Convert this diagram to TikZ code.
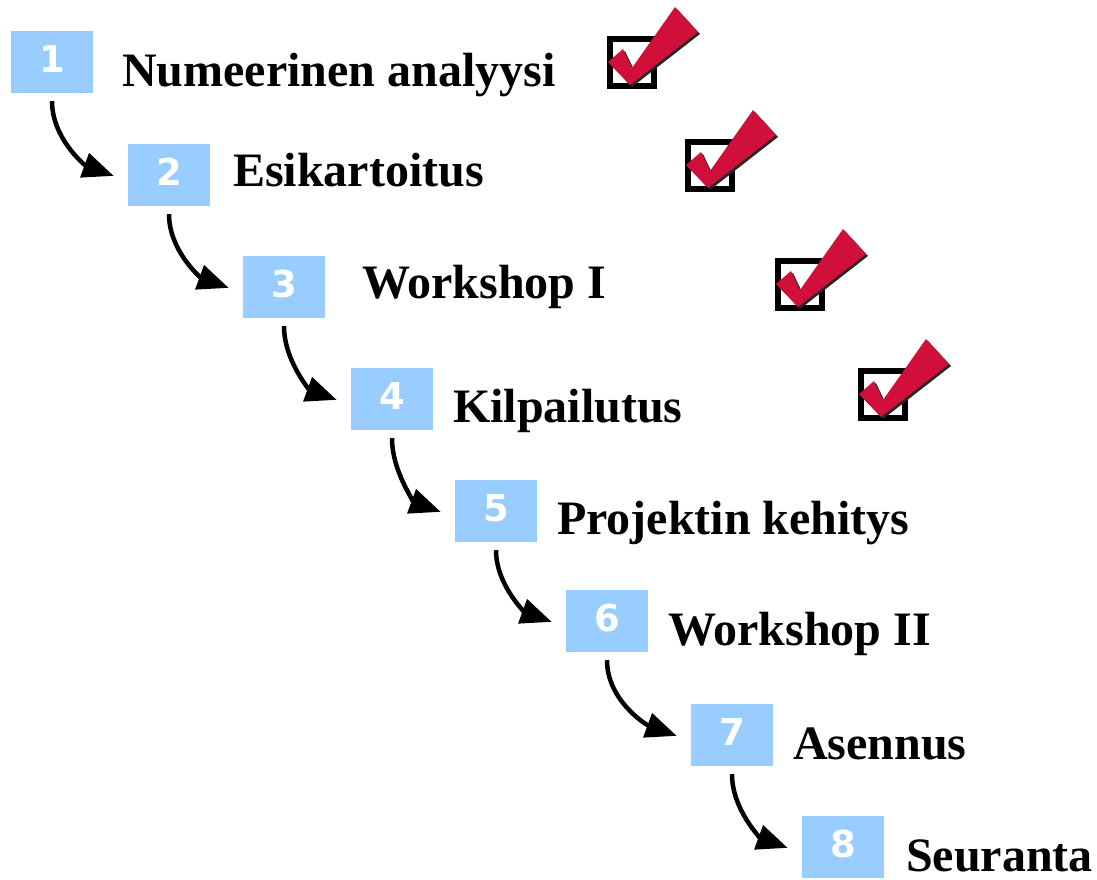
\documentclass[tikz,border=0pt]{standalone}
\usepackage{fontspec}
\setmainfont{Liberation Serif}
\newfontfamily\numfont{DejaVu Sans}
\usetikzlibrary{arrows.meta}
\definecolor{stepblue}{RGB}{153,204,255}
\definecolor{checkred}{RGB}{208,16,58}

\tikzset{
  num box/.style={rectangle,fill=stepblue,minimum width=82pt,minimum height=62pt,inner sep=0pt,text=white,font=\numfont\bfseries\fontsize{37}{37}\selectfont},
  step label/.style={anchor=base west,inner sep=0pt,font=\bfseries\fontsize{48}{58}\selectfont},
  flow/.style={-{Triangle[length=31pt,width=25pt]},line width=4.5pt,shorten <=8pt,shorten >=15pt},
  done mark/.pic={
    \fill[black] (0,0) rectangle (50,-53);
    \fill[white] (6,-6) rectangle (44,-47);
    \fill[black!85] (3,-28) -- (18,-15) -- (27,-34) -- (70,27) -- (93,2) -- (25,-51) -- cycle;
    \fill[checkred] (1,-26) -- (16,-13) -- (25,-32) -- (68,29) -- (91,4) -- (23,-49) -- cycle;
  }
}

\begin{document}
\begin{tikzpicture}[x=1pt,y=1pt]
    \useasboundingbox (0,0) rectangle (1097,-879);
    % numbered steps
    \node[num box] (b1) at (52,-62) {\raisebox{6pt}{1}};
    \node[num box] (b2) at (169,-175) {\raisebox{6pt}{2}};
    \node[num box] (b3) at (284,-287) {\raisebox{6pt}{3}};
    \node[num box] (b4) at (392,-399) {\raisebox{6pt}{4}};
    \node[num box] (b5) at (496,-511) {\raisebox{6pt}{5}};
    \node[num box] (b6) at (607,-621) {\raisebox{6pt}{6}};
    \node[num box] (b7) at (732,-735) {\raisebox{6pt}{7}};
    \node[num box] (b8) at (843,-847) {\raisebox{6pt}{8}};
    % step names
    \node[step label] (t1) at (122,-86) {Numeerinen analyysi};
    \node[step label] (t2) at (233,-186) {Esikartoitus};
    \node[step label] (t3) at (362,-298) {Workshop I};
    \node[step label] (t4) at (453,-422) {Kilpailutus};
    \node[step label] (t5) at (557,-534) {Projektin kehitys};
    \node[step label] (t6) at (668,-645) {Workshop II};
    \node[step label] (t7) at (793,-759) {Asennus};
    \node[step label] (t8) at (906,-871) {Seuranta};
    % ticks for finished steps
    \pic at (607,-36) {done mark};
    \pic at (685,-139) {done mark};
    \pic at (775,-258) {done mark};
    \pic at (858,-368) {done mark};
    % arrows
    \foreach \i/\j in {1/2,2/3,3/4,4/5,5/6,6/7,7/8}
      \path [flow] (b\i.south) edge [out=-90,in=160] ([yshift=-6pt]b\j.west);
\end{tikzpicture}
\end{document}
